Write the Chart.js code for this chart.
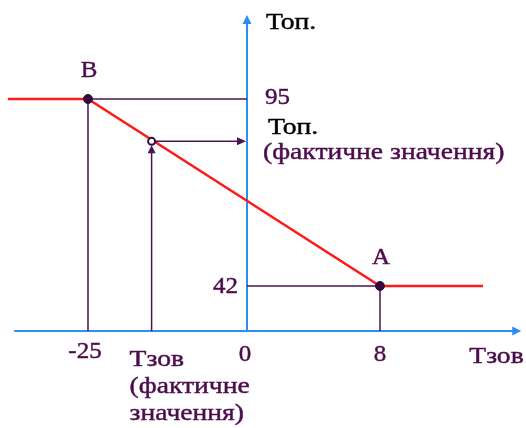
<!DOCTYPE html>
<html><head><meta charset="utf-8">
<script src="https://cdn.jsdelivr.net/npm/chart.js@4"></script>
<style>html,body{margin:0;padding:0;background:#fff;} canvas{display:block}</style>
</head><body>
<canvas id="c" width="526" height="428"></canvas>
<script>
// ---- data ----
const xTickValues = [-25, 0, 8];
const xTickLabels = ['-25', '0', '8'];
const yTickValues = [95, 42];
const yTickLabels = ['95', '42'];
const curveX = [-37.6, -25, 8, 14.2];
const curveY = [95, 95, 42, 42];
const pointNames = ['B', 'А'];
const pointX = [-25, 8];
const pointY = [95, 42];
const actualX = [-15];
const actualY = [83];
const xAxisTitle = 'Тзов';
const yAxisTitle = 'Топ.';
const actualXLabel = ['Тзов', '(фактичне', 'значення)'];
const actualYLabel = ['Топ.', '(фактичне значення)'];
const axisRangeX = [-36.6, 16.5];
const axisRangeY = [0, 118.8];

// schematic (piecewise) scale: value stops -> fraction of the chart area
const SCALE_STOPS = {
  x: { v: [-25, 0, 8], f: [0.1673, 0.4696, 0.7224] },
  y: { v: [0, 42, 95], f: [0.2266, 0.3318, 0.7687] }
};
function interp(xs, ys, t) {
  let i = 0;
  if (t <= xs[0]) i = 0;
  else if (t >= xs[xs.length - 1]) i = xs.length - 2;
  else { while (i < xs.length - 2 && t > xs[i + 1]) i++; }
  return ys[i] + (t - xs[i]) * (ys[i + 1] - ys[i]) / (xs[i + 1] - xs[i]);
}
class PiecewiseScale extends Chart.LinearScale {
  getPixelForValue(value) {
    const s = SCALE_STOPS[this.id];
    const f = interp(s.v, s.f, value);
    return this.isHorizontal() ? this.left + f * this.width : this.bottom - f * this.height;
  }
  getValueForPixel(pixel) {
    const s = SCALE_STOPS[this.id];
    const f = this.isHorizontal() ? (pixel - this.left) / this.width : (this.bottom - pixel) / this.height;
    return interp(s.f, s.v, f);
  }
}
PiecewiseScale.id = 'piecewise';
Chart.register(PiecewiseScale);

const BLUE = '#2a8ef2', RED = '#ff1a1a', PURPLE = '#4a1450', TEXT = '#4b0d4b';
const FONT = '24px "Liberation Serif", "Times New Roman", serif';
const CYR_SX = 1.15, NUM_SX = 1.04;

function zip(xa, ya) { return xa.map((x, i) => ({ x, y: ya[i] })); }

function arrowHead(ctx, x, y, dir, len, half, color) {
  ctx.save();
  ctx.fillStyle = color;
  ctx.beginPath();
  if (dir === 'up') { ctx.moveTo(x, y); ctx.lineTo(x - half, y + len); ctx.lineTo(x + half, y + len); }
  else { ctx.moveTo(x, y); ctx.lineTo(x - len, y - half); ctx.lineTo(x - len, y + half); }
  ctx.closePath(); ctx.fill();
  ctx.restore();
}

function label(ctx, text, x, y, align, color, sx) {
  ctx.save();
  ctx.translate(x, y);
  ctx.scale(sx, 1);
  ctx.font = FONT;
  ctx.textBaseline = 'alphabetic';
  ctx.textAlign = align;
  ctx.fillStyle = color;
  ctx.strokeStyle = color;
  ctx.lineWidth = 0.45;
  ctx.fillText(text, 0, 0);
  ctx.strokeText(text, 0, 0);
  ctx.restore();
}

const schemePlugin = {
  id: 'scheme',
  beforeDatasetsDraw(chart) {
    const ctx = chart.ctx, xs = chart.scales.x, ys = chart.scales.y;
    const x0 = xs.getPixelForValue(0), y0 = ys.getPixelForValue(0);
    const xl = xs.getPixelForValue(axisRangeX[0]), xr = xs.getPixelForValue(axisRangeX[1]);
    const yt = ys.getPixelForValue(axisRangeY[1]);
    ctx.save();
    ctx.strokeStyle = BLUE; ctx.lineWidth = 2;
    ctx.beginPath(); ctx.moveTo(xl, y0); ctx.lineTo(xr - 6, y0); ctx.stroke();
    ctx.beginPath(); ctx.moveTo(x0, y0); ctx.lineTo(x0, yt + 6); ctx.stroke();
    ctx.restore();
    arrowHead(ctx, xr, y0, 'right', 9, 4.5, BLUE);
    arrowHead(ctx, x0, yt, 'up', 9, 4.5, BLUE);
  },
  afterDatasetsDraw(chart) {
    const ctx = chart.ctx, xs = chart.scales.x, ys = chart.scales.y;
    const x0 = xs.getPixelForValue(0), y0 = ys.getPixelForValue(0);
    const ax = xs.getPixelForValue(actualX[0]), ay = ys.getPixelForValue(actualY[0]);
    ctx.save();
    ctx.strokeStyle = PURPLE; ctx.lineWidth = 1.5;
    ctx.beginPath(); ctx.moveTo(ax, y0); ctx.lineTo(ax, ay + 10); ctx.stroke();
    ctx.beginPath(); ctx.moveTo(ax + 4, ay); ctx.lineTo(x0 - 8, ay); ctx.stroke();
    ctx.restore();
    arrowHead(ctx, ax, ay + 4, 'up', 8, 4, PURPLE);
    arrowHead(ctx, x0 - 1, ay, 'right', 9, 4, PURPLE);
  },
  afterDraw(chart) {
    const ctx = chart.ctx, xs = chart.scales.x, ys = chart.scales.y;
    const x0 = xs.getPixelForValue(0), y0 = ys.getPixelForValue(0);
    const ax = xs.getPixelForValue(actualX[0]), ay = ys.getPixelForValue(actualY[0]);
    // axis titles
    label(ctx, yAxisTitle, x0 + 19, 29, 'left', '#000', CYR_SX);
    label(ctx, xAxisTitle, xs.getPixelForValue(axisRangeX[1]) - 52, y0 + 32, 'left', TEXT, CYR_SX);
    // point names
    pointNames.forEach((n, i) => {
      label(ctx, n, xs.getPixelForValue(pointX[i]) + 1, ys.getPixelForValue(pointY[i]) - 22, 'center', TEXT, NUM_SX);
    });
    // y tick labels
    label(ctx, yTickLabels[0], x0 + 18, ys.getPixelForValue(yTickValues[0]) + 5, 'left', TEXT, NUM_SX);
    label(ctx, yTickLabels[1], x0 - 9, ys.getPixelForValue(yTickValues[1]) + 7, 'right', TEXT, NUM_SX);
    // x tick labels
    xTickValues.forEach((v, i) => {
      const dx = i === 0 ? -3 : (i === 1 ? -2 : 0);
      label(ctx, xTickLabels[i], xs.getPixelForValue(v) + dx, y0 + (i === 0 ? 27 : 30), 'center', TEXT, NUM_SX);
    });
    // actual-value labels
    actualXLabel.forEach((t, i) => label(ctx, t, ax - 22, y0 + 35 + i * 27, 'left', TEXT, CYR_SX));
    label(ctx, actualYLabel[0], x0 + 21, ay - 7, 'left', '#000', CYR_SX);
    label(ctx, actualYLabel[1], x0 + 16, ay + 18, 'left', TEXT, CYR_SX);
  }
};

new Chart(document.getElementById('c'), {
  type: 'scatter',
  data: {
    datasets: [
      { data: zip(pointX, pointY), pointRadius: 4.5, pointBackgroundColor: '#33083a', pointBorderColor: '#33083a', showLine: false },
      { data: zip(actualX, actualY), pointRadius: 3.5, pointBackgroundColor: '#fff', pointBorderColor: '#33083a', pointBorderWidth: 2, showLine: false },
      { data: zip(curveX, curveY), showLine: true, borderColor: RED, borderWidth: 2.5, pointRadius: 0, tension: 0 },
      { data: [{ x: pointX[0], y: 0 }, { x: pointX[0], y: pointY[0] }, { x: 0, y: pointY[0] }], showLine: true, borderColor: PURPLE, borderWidth: 1.5, pointRadius: 0 },
      { data: [{ x: 0, y: pointY[1] }, { x: pointX[1], y: pointY[1] }, { x: pointX[1], y: 0 }], showLine: true, borderColor: PURPLE, borderWidth: 1.5, pointRadius: 0 }
    ]
  },
  options: {
    responsive: false, animation: false,
    layout: { padding: 0, autoPadding: false },
    plugins: { legend: { display: false }, tooltip: { enabled: false } },
    scales: {
      x: { type: 'piecewise', display: false },
      y: { type: 'piecewise', display: false }
    }
  },
  plugins: [schemePlugin]
});
</script>
</body></html>
